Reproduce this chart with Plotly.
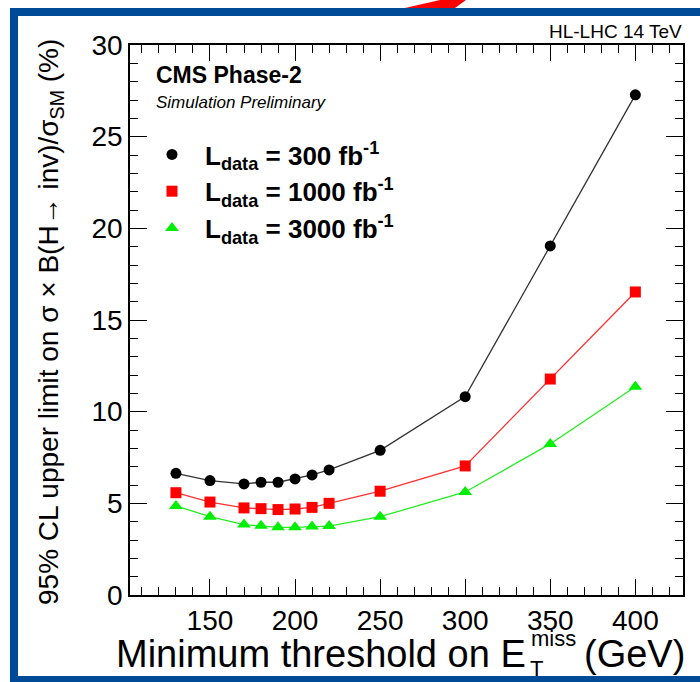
import plotly.graph_objects as go

# ---- data ----
met_threshold = [130, 150, 170, 180, 190, 200, 210, 220, 250, 300, 350, 400]
limit_300 = [6.64, 6.24, 6.06, 6.15, 6.15, 6.33, 6.55, 6.82, 7.89, 10.82, 19.04, 27.28]
limit_1000 = [5.58, 5.07, 4.75, 4.71, 4.66, 4.69, 4.78, 5.00, 5.66, 7.04, 11.78, 16.53]
limit_3000 = [4.86, 4.27, 3.84, 3.78, 3.69, 3.69, 3.73, 3.76, 4.27, 5.62, 8.24, 11.36]
series_names = ["<b>L<sub>data</sub> = 300 fb<sup>-1</sup></b>",
                "<b>L<sub>data</sub> = 1000 fb<sup>-1</sup></b>",
                "<b>L<sub>data</sub> = 3000 fb<sup>-1</sup></b>"]
x_ticks = [150, 200, 250, 300, 350, 400]
y_ticks = [0, 5, 10, 15, 20, 25, 30]

FONT = "Liberation Sans, Arial, sans-serif"
W, H = 700, 682
L, R, T, B = 130, 17, 45, 87
PW, PH = W - L - R, H - T - B

def px(x):
    return (x - L) / PW

def py(y):
    return (H - B - y) / PH

fig = go.Figure()

styles = [
    dict(color="black", line="#333333", symbol="circle", size=11),
    dict(color="#ff0000", line="#ff3030", symbol="square", size=11),
    dict(color="#00ee00", line="#22ee22", symbol="triangle-up", size=12),
]
for vals, st in zip([limit_300, limit_1000, limit_3000], styles):
    fig.add_trace(go.Scatter(x=met_threshold, y=vals, mode="lines",
                             line=dict(color=st["line"], width=1.3),
                             showlegend=False, hoverinfo="skip"))
for vals, name, st in zip([limit_300, limit_1000, limit_3000], series_names, styles):
    fig.add_trace(go.Scatter(x=met_threshold, y=vals, mode="markers", name=name,
                             marker=dict(color=st["color"], symbol=st["symbol"], size=st["size"],
                                         line=dict(width=0))))

axis_common = dict(showgrid=False, zeroline=False, showline=True, linecolor="black",
                   linewidth=1.5, mirror="allticks", ticks="inside", tickcolor="black",
                   tickwidth=1, tickfont=dict(family=FONT, size=28, color="black"))

fig.update_xaxes(range=[103, 428], tickvals=x_ticks, ticklen=16,
                 minor=dict(dtick=10, tick0=100, ticklen=8, ticks="inside", tickcolor="black"),
                 **axis_common)
fig.update_yaxes(range=[0, 30], tickvals=y_ticks, ticklen=17,
                 minor=dict(dtick=1, ticklen=8, ticks="inside", tickcolor="black"),
                 **axis_common)

fig.update_layout(
    width=W, height=H, margin=dict(l=L, r=R, t=T, b=B),
    plot_bgcolor="white", paper_bgcolor="white",
    legend=dict(x=px(139), y=py(131), xanchor="left", yanchor="top",
                font=dict(family=FONT, size=26, color="black"),
                bgcolor="rgba(0,0,0,0)", itemwidth=56, tracegroupgap=0),
)

def note(text, x, y, size, xanchor="left", angle=0):
    fig.add_annotation(text=text, x=px(x), y=py(y), xref="paper", yref="paper",
                       xanchor=xanchor, yanchor="middle", showarrow=False, textangle=angle,
                       font=dict(family=FONT, size=size, color="black"))

note("<b>CMS Phase-2</b>", 154, 75, 23)
note("<i>Simulation Preliminary</i>", 154, 102, 17)
note("HL-LHC 14 TeV", 684, 31, 19, xanchor="right")

# axis titles
note("Minimum threshold on E", 528, 654, 38, xanchor="right")
note("miss", 529, 638, 22)
note("T", 528, 668, 22)
note("(GeV)", 687, 654, 38, xanchor="right")
note("95% CL upper limit on σ × B(H→ inv)/σ<sub>SM</sub> (%)", 50, 322, 28, xanchor="center", angle=-90)

# slide frame decoration
BLUE = "#004b97"
def rect(x0, y0, x1, y1, color):
    fig.add_shape(type="rect", xref="paper", yref="paper",
                  x0=px(x0), x1=px(x1), y0=py(y1), y1=py(y0),
                  fillcolor=color, line=dict(width=0), layer="above")

rect(10, 8, 700, 16, BLUE)
rect(10, 8, 18, 682, BLUE)
rect(10, 676, 700, 682, BLUE)
path = "M {},{} L {},{} L {},{} L {},{} Z".format(px(405), py(8), px(440), py(0), px(466), py(0), px(455), py(8))
fig.add_shape(type="path", xref="paper", yref="paper", path=path,
              fillcolor="#ff0000", line=dict(width=0), layer="above")

fig.write_html("out.html")
